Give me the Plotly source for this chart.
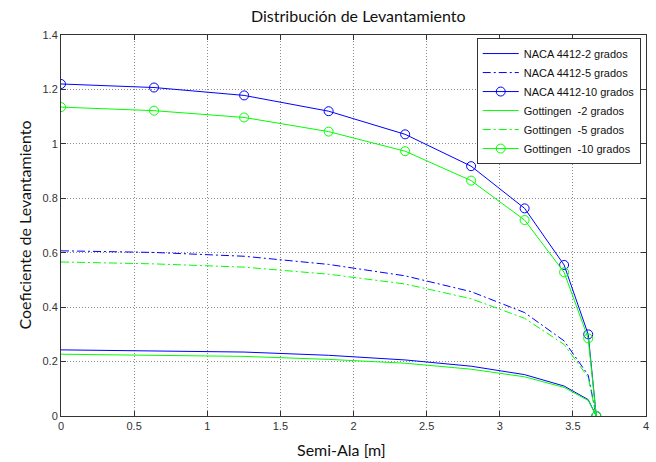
import plotly.graph_objects as go

semi_ala = [0, 0.636, 1.252, 1.83, 2.353, 2.804, 3.17, 3.44, 3.605, 3.66]

naca_2 = [0.243, 0.240, 0.235, 0.223, 0.206, 0.183, 0.152, 0.110, 0.060, 0]
naca_5 = [0.607, 0.601, 0.587, 0.557, 0.515, 0.457, 0.380, 0.276, 0.150, 0]
naca_10 = [1.220, 1.207, 1.178, 1.120, 1.035, 0.918, 0.763, 0.555, 0.300, 0]
gott_2 = [0.227, 0.224, 0.219, 0.208, 0.194, 0.172, 0.144, 0.105, 0.057, 0]
gott_5 = [0.566, 0.559, 0.547, 0.521, 0.485, 0.431, 0.359, 0.263, 0.142, 0]
gott_10 = [1.135, 1.122, 1.097, 1.045, 0.973, 0.865, 0.720, 0.528, 0.285, 0]

names = [
    "NACA 4412-2 grados",
    "NACA 4412-5 grados",
    "NACA 4412-10 grados",
    "Gottingen \u00a0-2 grados",
    "Gottingen \u00a0-5 grados",
    "Gottingen \u00a0-10 grados",
]

BLUE = "#0000ff"
GREEN = "#00ff00"
DASHDOT = "8px,3px,2px,3px"

series = [
    (naca_2, BLUE, "solid", False),
    (naca_5, BLUE, DASHDOT, False),
    (naca_10, BLUE, "solid", True),
    (gott_2, GREEN, "solid", False),
    (gott_5, GREEN, DASHDOT, False),
    (gott_10, GREEN, "solid", True),
]

fig = go.Figure()
for name, (ys, col, dash, mk) in zip(names, series):
    fig.add_trace(go.Scatter(
        x=semi_ala, y=ys, name=name,
        mode="lines+markers" if mk else "lines",
        line=dict(color=col, width=1, dash=dash),
        marker=dict(symbol="circle-open", size=9, color=col, line=dict(width=1, color=col)),
    ))

axis_common = dict(
    showline=True, linecolor="#333333", linewidth=1, mirror="ticks",
    ticks="inside", ticklen=5, tickcolor="#333333",
    showgrid=True, gridcolor="#8c8c8c", griddash="1px,2px", gridwidth=1,
    zeroline=False, automargin=False,
    tickfont=dict(family="Liberation Sans, Arial", size=11, color="#333333"),
)

label_font = dict(family="Lato", size=16, color="#111111")

fig.update_layout(
    width=656, height=462,
    paper_bgcolor="white", plot_bgcolor="white",
    margin=dict(l=61, r=10, t=35, b=46),
    xaxis=dict(range=[0, 4], tickvals=[0, 0.5, 1, 1.5, 2, 2.5, 3, 3.5, 4],
               ticktext=["0", "0.5", "1", "1.5", "2", "2.5", "3", "3.5", "4"],
               **axis_common),
    yaxis=dict(range=[0, 1.4], tickvals=[0, 0.2, 0.4, 0.6, 0.8, 1, 1.2, 1.4],
               ticktext=["0", "0.2", "0.4", "0.6", "0.8", "1", "1.2", "1.4"],
               **axis_common),
    legend=dict(x=0.991, xanchor="right", y=0.992, yanchor="top",
                bgcolor="white", bordercolor="#333333", borderwidth=1,
                font=dict(family="Liberation Sans, Arial", size=11, color="#111111"),
                tracegroupgap=0, itemwidth=36),
    showlegend=True,
    annotations=[
        dict(text="Distribución de Levantamiento", xref="paper", yref="paper",
             x=0.508, y=1, yshift=20, showarrow=False, xanchor="center", yanchor="middle",
             font=label_font),
        dict(text="Semi-Ala [m]", xref="paper", yref="paper",
             x=0.48, y=0, yshift=-33, showarrow=False, xanchor="center", yanchor="middle",
             font=label_font),
        dict(text="Coeficiente de Levantamiento", xref="paper", yref="paper",
             x=0, xshift=-37, y=0.5, showarrow=False, xanchor="center", yanchor="middle",
             textangle=-90, font=label_font),
    ],
)

fig.write_html("out.html", config={"displayModeBar": False},
               post_script="document.body.style.margin='0';document.body.style.overflow='hidden';")
